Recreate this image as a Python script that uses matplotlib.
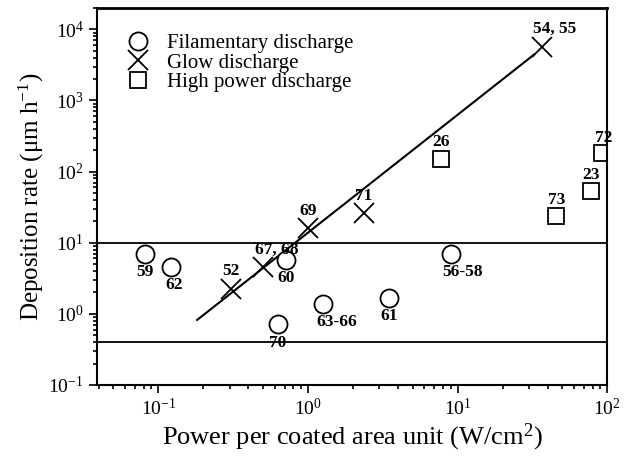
import numpy as np
import matplotlib
matplotlib.use("Agg")
import matplotlib.pyplot as plt

plt.rcParams['font.family'] = ['Liberation Serif', 'DejaVu Serif']
plt.rcParams['mathtext.fontset'] = 'custom'
plt.rcParams['mathtext.rm'] = 'Liberation Serif'
plt.rcParams['mathtext.it'] = 'Liberation Serif:italic'
plt.rcParams['axes.unicode_minus'] = False

# Filamentary discharge
fil_x = [0.081, 0.122, 0.71, 0.63, 1.26, 3.47, 9.1]
fil_y = [7.0, 4.6, 5.8, 0.72, 1.38, 1.68, 7.0]
fil_lab = ['59', '62', '60', '70', '63-66', '61', '56-58']
fil_off = [(0, -13), (2, -13), (0, -13), (0, -14), (10, -13), (0, -13), (8, -13)]

# Glow discharge
glow_x = [0.307, 0.50, 1.0, 2.36, 36.9]
glow_y = [2.25, 4.6, 16.3, 26.5, 5600]
glow_lab = ['52', '67, 68', '69', '71', '54, 55']
glow_off = [(0, 13), (10, 12), (0, 12), (0, 12), (9, 13)]

# High power discharge
hp_x = [7.7, 45.7, 78.0, 92.6]
hp_y = [152, 24, 54, 180]
hp_lab = ['26', '73', '23', '72']
hp_off = [(0, 12), (0, 11), (0, 11), (1, 11)]

# fit line end points
fit_x = [0.182, 32.6]
fit_y = [0.82, 4450]

# horizontal limits
hlines = [10, 0.40]

fig = plt.figure(figsize=(6.26, 4.66), dpi=100)
ax = fig.add_axes([0.155, 0.174, 0.815, 0.809])
ax.set_xscale('log')
ax.set_yscale('log')
ax.set_xlim(0.039, 100)
ax.set_ylim(0.1, 2.0e4)

for h in hlines:
    ax.axhline(h, color='black', lw=1.3)
ax.plot(fit_x, fit_y, color='black', lw=1.5)

ax.plot(fil_x, fil_y, 'o', ms=13, mfc='white', mec='black', mew=1.3,
        ls='none', label='Filamentary discharge')
ax.plot(glow_x, glow_y, 'x', ms=14, mec='black', mew=1.3,
        ls='none', label='Glow discharge')
ax.plot(hp_x, hp_y, 's', ms=11, mfc='white', mec='black', mew=1.3,
        ls='none', label='High power discharge')

for xs, ys, labs, offs in [(fil_x, fil_y, fil_lab, fil_off),
                           (glow_x, glow_y, glow_lab, glow_off),
                           (hp_x, hp_y, hp_lab, hp_off)]:
    for x, y, t, o in zip(xs, ys, labs, offs):
        ax.annotate(t, (x, y), xytext=o, textcoords='offset points',
                    ha='center', va='center', fontsize=12.5, fontweight='bold')

ax.legend(loc='upper left', bbox_to_anchor=(0.015, 0.965), frameon=False,
          fontsize=15, handletextpad=0.4, labelspacing=0.0,
          borderaxespad=0.2)

for s in ['left', 'bottom']:
    ax.spines[s].set_linewidth(1.5)
ax.spines['top'].set_linewidth(2.0)
ax.spines['right'].set_linewidth(1.5)

ax.tick_params(which='both', direction='out', top=False, right=False,
               labelsize=14, width=1.2)
ax.tick_params(which='major', length=6)
ax.tick_params(which='minor', length=3)
ax.yaxis.set_major_locator(matplotlib.ticker.LogLocator(base=10, numticks=10))
ax.yaxis.set_minor_locator(matplotlib.ticker.LogLocator(base=10, subs=np.arange(2, 10), numticks=20))

ax.set_xlabel('Power per coated area unit (W/cm$^2$)', fontsize=19, labelpad=2)
ax.set_ylabel('Deposition rate (\u03bcm h$^{-1}$)', fontsize=18, labelpad=2)

fig.savefig('out.png', dpi=100)
